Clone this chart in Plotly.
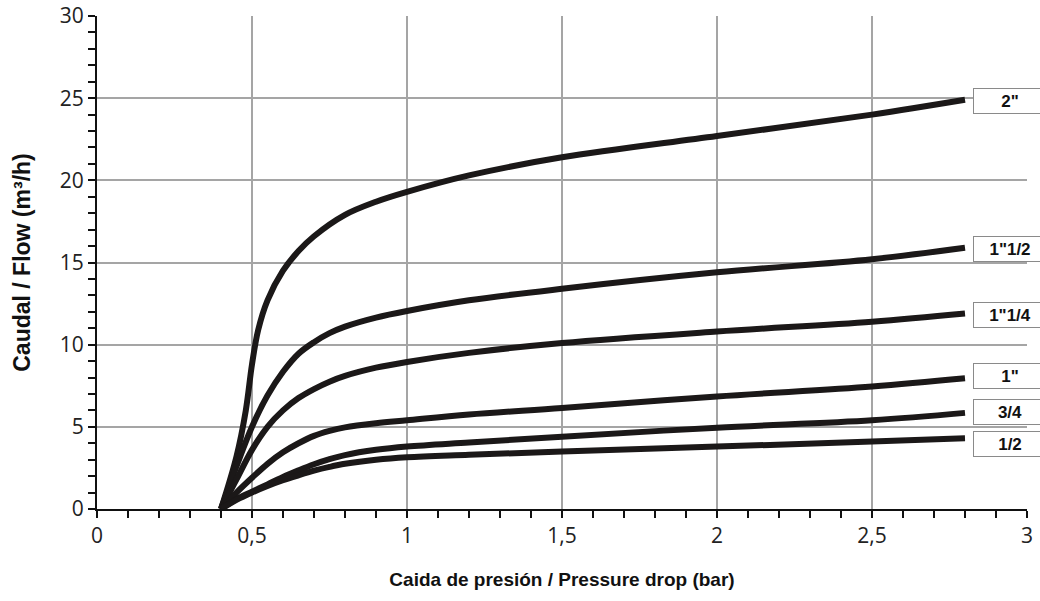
import plotly.graph_objects as go

# ---- data ----
x_2in = [0.4, 0.45, 0.48, 0.5, 0.52, 0.55, 0.6, 0.65, 0.7, 0.8, 0.9, 1.0, 1.2, 1.5, 2.0, 2.5, 2.8]
y_2in = [0, 3.2, 6.0, 8.8, 10.9, 12.7, 14.5, 15.7, 16.6, 17.9, 18.7, 19.3, 20.3, 21.4, 22.7, 24.0, 24.9]

x_1_1_2 = [0.4, 0.45, 0.5, 0.55, 0.6, 0.65, 0.7, 0.75, 0.8, 0.9, 1.0, 1.2, 1.5, 2.0, 2.5, 2.8]
y_1_1_2 = [0, 2.6, 5.0, 6.9, 8.35, 9.45, 10.15, 10.7, 11.1, 11.65, 12.05, 12.7, 13.4, 14.4, 15.2, 15.9]

x_1_1_4 = [0.4, 0.45, 0.5, 0.55, 0.6, 0.65, 0.7, 0.75, 0.8, 0.9, 1.0, 1.2, 1.5, 2.0, 2.5, 2.8]
y_1_1_4 = [0, 1.8, 3.6, 5.0, 6.0, 6.75, 7.3, 7.75, 8.1, 8.6, 8.95, 9.5, 10.1, 10.8, 11.4, 11.9]

x_1in = [0.4, 0.45, 0.5, 0.55, 0.6, 0.65, 0.7, 0.75, 0.8, 0.9, 1.0, 1.2, 1.5, 2.0, 2.5, 2.8]
y_1in = [0, 1.0, 1.9, 2.75, 3.45, 4.0, 4.45, 4.75, 4.97, 5.22, 5.4, 5.75, 6.15, 6.85, 7.45, 7.95]

x_3_4 = [0.4, 0.45, 0.5, 0.55, 0.6, 0.65, 0.7, 0.75, 0.8, 0.9, 1.0, 1.2, 1.5, 2.0, 2.5, 2.8]
y_3_4 = [0, 0.6, 1.05, 1.5, 1.95, 2.35, 2.72, 3.03, 3.28, 3.6, 3.8, 4.05, 4.4, 4.95, 5.4, 5.85]

x_1_2 = [0.4, 0.45, 0.5, 0.55, 0.6, 0.65, 0.7, 0.75, 0.8, 0.9, 1.0, 1.2, 1.5, 2.0, 2.5, 2.8]
y_1_2 = [0, 0.55, 1.0, 1.4, 1.75, 2.05, 2.33, 2.56, 2.75, 3.0, 3.15, 3.3, 3.5, 3.8, 4.1, 4.3]

series_x = [x_2in, x_1_1_2, x_1_1_4, x_1in, x_3_4, x_1_2]
series_y = [y_2in, y_1_1_2, y_1_1_4, y_1in, y_3_4, y_1_2]
series_names = ['2"', '1"1/2', '1"1/4', '1"', '3/4', '1/2']
label_y = [24.8, 15.85, 11.8, 8.1, 5.9, 3.95]
label_x = 2.946

x_tickvals = [0, 0.5, 1, 1.5, 2, 2.5, 3]
x_ticktext = ['0', '0,5', '1', '1,5', '2', '2,5', '3']
y_tickvals = [0, 5, 10, 15, 20, 25, 30]
y_ticktext = ['0', '5', '10', '15', '20', '25', '30']

fig = go.Figure()
for xs, ys, nm in zip(series_x, series_y, series_names):
    fig.add_trace(go.Scatter(x=xs, y=ys, mode='lines', name=nm,
                             line=dict(color='#1b1818', width=6, shape='spline', smoothing=1.0),
                             showlegend=False, hoverinfo='skip'))

for nm, ly in zip(series_names, label_y):
    fig.add_annotation(x=label_x, y=ly, xref='x', yref='y', text='<b>' + nm + '</b>',
                       showarrow=False, xanchor='center', yanchor='middle',
                       font=dict(family='Liberation Sans, Arial', size=17, color='#111'),
                       bgcolor='white', bordercolor='#8a8a8a', borderwidth=1,
                       borderpad=1, width=70, height=22, align='center')

tick_font = dict(family='Open Sans, DejaVu Sans', size=21, color='#222')

fig.update_layout(
    width=1040, height=601,
    margin=dict(l=97, r=13, t=16, b=92),
    paper_bgcolor='white', plot_bgcolor='white',
    xaxis=dict(range=[0, 3], tickvals=x_tickvals, ticktext=x_ticktext, automargin=False,
               showgrid=True, gridcolor='#a5a5a5', gridwidth=1.5,
               showline=True, linecolor='#111', linewidth=2, zeroline=False,
               ticks='outside', ticklen=7, tickwidth=2, tickcolor='#111',
               minor=dict(dtick=0.1, ticks='outside', ticklen=7, tickwidth=2,
                          tickcolor='#111', showgrid=False),
               tickfont=tick_font,
               title=dict(text='<b>Caida de presión / Pressure drop (bar)</b>',
                          font=dict(family='Liberation Sans, Arial', size=19, color='#111'),
                          standoff=24)),
    yaxis=dict(range=[0, 30], tickvals=y_tickvals, ticktext=y_ticktext, automargin=False,
               showgrid=True, gridcolor='#a5a5a5', gridwidth=1.5,
               showline=True, linecolor='#111', linewidth=2, zeroline=False,
               ticks='outside', ticklen=7, tickwidth=2, tickcolor='#111',
               minor=dict(dtick=1, ticks='outside', ticklen=7, tickwidth=2,
                          tickcolor='#111', showgrid=False),
               tickfont=tick_font,
               title=dict(text='<b>Caudal / Flow (m³/h)</b>',
                          font=dict(family='Liberation Sans, Arial', size=23, color='#111'),
                          standoff=23)),
)

fig.write_html('out.html', config={'displayModeBar': False},
               post_script="document.body.style.margin='0';document.body.style.overflow='hidden';")
